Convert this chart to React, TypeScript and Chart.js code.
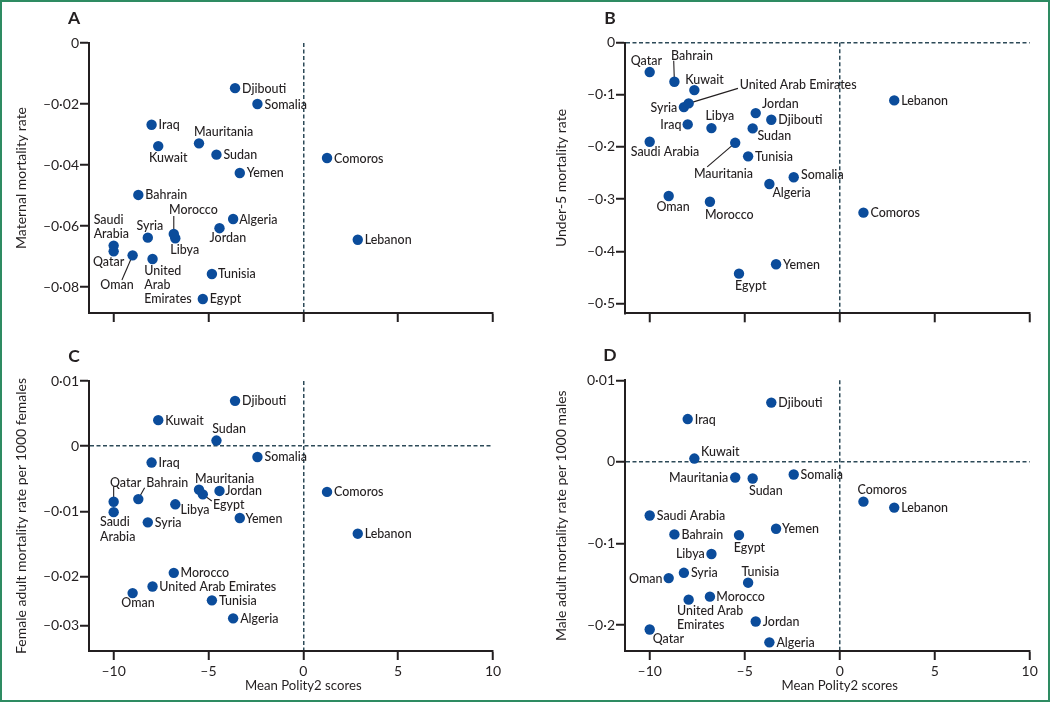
import React, { useEffect, useRef } from 'react';
import { Chart, registerables, LinearScale } from 'chart.js';

Chart.register(...registerables);

// ---------------- data ----------------
const countries = [
  'Algeria', 'Bahrain', 'Comoros', 'Djibouti', 'Egypt', 'Iraq', 'Jordan', 'Kuwait',
  'Lebanon', 'Libya', 'Mauritania', 'Morocco', 'Oman', 'Qatar', 'Saudi Arabia',
  'Somalia', 'Sudan', 'Syria', 'Tunisia', 'United Arab Emirates', 'Yemen',
];
const polity2 = [
  -3.7, -8.7, 1.25, -3.6, -5.3, -8.0, -4.42, -7.65,
  2.87, -6.75, -5.5, -6.83, -9.0, -10, -10,
  -2.42, -4.58, -8.2, -4.82, -7.95, -3.35,
];
const maternalMortality = [
  -0.0577, -0.0498, -0.0377, -0.0148, -0.0839, -0.0268, -0.0607, -0.0338,
  -0.0645, -0.064, -0.0329, -0.0626, -0.0696, -0.0683, -0.0664,
  -0.02, -0.0366, -0.0638, -0.0757, -0.0708, -0.0426,
];
const under5Mortality = [
  -0.271, -0.0749, -0.326, -0.1478, -0.443, -0.1567, -0.135, -0.0909,
  -0.1107, -0.1638, -0.192, -0.305, -0.294, -0.0563, -0.19,
  -0.258, -0.1644, -0.1235, -0.218, -0.1164, -0.425,
];
const femaleAdultMortality = [
  -0.02856, -0.0081, -0.007, 0.00696, -0.00737, -0.0025, -0.00685, 0.004,
  -0.0134, -0.0089, -0.00665, -0.0194, -0.02336, -0.0085, -0.0101,
  -0.00164, 0.00087, -0.01166, -0.02486, -0.022, -0.011,
];
const maleAdultMortality = [
  -0.2211, -0.0888, -0.0487, 0.00727, -0.0897, 0.00525, -0.1955, 0.00041,
  -0.056, -0.1128, -0.0191, -0.1651, -0.1424, -0.2053, -0.0657,
  -0.0154, -0.0203, -0.1359, -0.148, -0.1688, -0.0819,
];

const polityTicks = [-10, -5, 0, 5, 10];
const polityTickLabels = ['–10', '–5', '0', '5', '10'];
const maternalTicks = [0, -0.02, -0.04, -0.06, -0.08];
const maternalTickLabels = ['0', '–0·02', '–0·04', '–0·06', '–0·08'];
const under5Ticks = [0, -0.1, -0.2, -0.3, -0.4, -0.5];
const under5TickLabels = ['0', '–0·1', '–0·2', '–0·3', '–0·4', '–0·5'];
const femaleTicks = [0.01, 0, -0.01, -0.02, -0.03];
const femaleTickLabels = ['0·01', '0', '–0·01', '–0·02', '–0·03'];
const maleTicks = [0.01, 0, -0.1, -0.2];
const maleTickLabels = ['0·01', '0', '–0·1', '–0·2'];

// ---------------- styles ----------------
const INK = '#231f20';
const DOT = '#0b4c9b';
const DASH = '#2d4a58';
const FAMILY = "Lato, 'Noto Sans', sans-serif";
const FONT_SIZE = 14;
const LABEL_SQUEEZE = 0.89; // reference type is a condensed humanist sans
const TITLE_SQUEEZE = 0.94;
const LINE_H = 14.3;

// piecewise axes (the reference's y axes are not evenly spaced in C and D)
function makeWarp(breaks: [number, number][]) {
  return (v: number) => {
    const n = breaks.length;
    let i = 0;
    if (v >= breaks[n - 1][0]) i = n - 2;
    else if (v > breaks[0][0]) {
      while (i < n - 2 && v > breaks[i + 1][0]) i++;
    }
    const [d0, s0] = breaks[i];
    const [d1, s1] = breaks[i + 1];
    return s0 + ((v - d0) * (s1 - s0)) / (d1 - d0);
  };
}
function registerWarpScale(id: string, breaks: [number, number][]) {
  const warp = makeWarp(breaks);
  class WarpScale extends LinearScale {
    getPixelForValue(value: number) {
      return super.getPixelForValue(warp(value));
    }
  }
  (WarpScale as any).id = id;
  Chart.register(WarpScale as any);
}
registerWarpScale('femaleWarp', [[-0.03, -0.02745], [-0.02, -0.02], [0.01, 0.01]]);
registerWarpScale('maleWarp', [[-0.2, -0.2], [0, 0], [0.01, 0.1]]);

type Place = { dx?: number; dy?: number; a?: CanvasTextAlign; lines?: string[]; lead?: [number, number] };

interface PanelSpec {
  letter: string;
  left: number;
  top: number;
  values: number[];
  yType: string;
  yMin: number;
  yMax: number;
  yTicks: number[];
  yTickLabels: string[];
  yTitle: string;
  yZeroLine: boolean;
  showX: boolean;
  padTop: number;
  padRight: number;
  yWidth: number;
  xHeight: number;
  yTitlePad: number;
  places: Record<string, Place>;
}

const placesA: Record<string, Place> = {
  Mauritania: { dx: -5, dy: -12.3 },
  Kuwait: { dx: -9.3, dy: 11 },
  Jordan: { dx: -10, dy: 9.3 },
  Morocco: { dx: -4.7, dy: -24.7, lead: [0, -18] },
  Libya: { dx: -5, dy: 11.7 },
  Syria: { dx: -11.3, dy: -12.3 },
  'Saudi Arabia': { dx: -20, dy: -26, lines: ['Saudi', 'Arabia'] },
  Qatar: { dx: -20.7, dy: 9.7 },
  Oman: { dx: -32.3, dy: 29, lead: [-10.7, 24.7] },
  'United Arab Emirates': { dx: -8.3, dy: 11.3, lines: ['United', 'Arab', 'Emirates'] },
  Tunisia: { dx: 6 },
  Algeria: { dx: 6 },
};
const placesB: Record<string, Place> = {
  Qatar: { dx: -19, dy: -12 },
  Bahrain: { dx: -3.3, dy: -26.7, lead: [-0.7, -21] },
  Kuwait: { dx: -9, dy: -10.7 },
  'United Arab Emirates': { dx: 51, dy: -19, lead: [49.3, -15] },
  Syria: { dx: -6.7, a: 'right' },
  Jordan: { dx: 6.3, dy: -9.7 },
  Iraq: { dx: -6.3, a: 'right' },
  Libya: { dx: -6, dy: -12.3 },
  Sudan: { dx: 4.7, dy: 7 },
  'Saudi Arabia': { dx: -19, dy: 10 },
  Mauritania: { dx: -41.3, dy: 30.3, lead: [-28, 24] },
  Somalia: { dx: 7.3, dy: -2.3 },
  Algeria: { dx: 3, dy: 8 },
  Oman: { dx: -12.3, dy: 10 },
  Morocco: { dx: -5, dy: 12.3 },
  Egypt: { dx: -4, dy: 12.3 },
};
const placesC: Record<string, Place> = {
  Sudan: { dx: -4.3, dy: -12 },
  Mauritania: { dx: -4, dy: -11 },
  Egypt: { dx: 10.3, dy: 9.7, lead: [9, 6.7] },
  Jordan: { dx: 5.7 },
  Qatar: { dx: -3.7, dy: -19.7, lead: [0, -15] },
  Bahrain: { dx: 8, dy: -17, lead: [6.3, -11.3] },
  Libya: { dx: 5.3, dy: 5.3 },
  'Saudi Arabia': { dx: -13.7, dy: 9.7, lines: ['Saudi', 'Arabia'] },
  Yemen: { dx: 5.7 },
  Oman: { dx: -11.3, dy: 9.7 },
  Morocco: { dx: 6.7 },
  'United Arab Emirates': { dx: 6.7 },
};
const placesD: Record<string, Place> = {
  Kuwait: { dx: 6.7, dy: -7.3 },
  Mauritania: { dx: -7, a: 'right' },
  Sudan: { dx: -3.7, dy: 11.7 },
  Comoros: { dx: -6, dy: -11.7 },
  Egypt: { dx: -5.3, dy: 12 },
  Libya: { dx: -6.7, a: 'right' },
  Oman: { dx: -6.3, a: 'right' },
  Tunisia: { dx: -6.7, dy: -11 },
  'United Arab Emirates': { dx: -11.7, dy: 10.7, lines: ['United Arab', 'Emirates'] },
  Qatar: { dx: 3, dy: 8.7 },
  Yemen: { dx: 6 },
  Somalia: { dx: 6.7 },
  Morocco: { dx: 6.3 },
};

// canvases for C and D start 10px higher so the panel letter is not clipped
const panels: PanelSpec[] = [
  {
    letter: 'A', left: 0, top: 0, values: maternalMortality, yType: 'linear',
    yMin: -0.0885, yMax: 0, yTicks: maternalTicks, yTickLabels: maternalTickLabels,
    yTitle: 'Maternal mortality rate', yZeroLine: false, showX: false,
    padTop: 43, padRight: 32, yWidth: 89, xHeight: 38, yTitlePad: 13.3, places: placesA,
  },
  {
    letter: 'B', left: 525, top: 0, values: under5Mortality, yType: 'linear',
    yMin: -0.519, yMax: 0, yTicks: under5Ticks, yTickLabels: under5TickLabels,
    yTitle: 'Under-5 mortality rate', yZeroLine: true, showX: false,
    padTop: 42.7, padRight: 20.3, yWidth: 100, xHeight: 37.7, yTitlePad: 28.3, places: placesB,
  },
  {
    letter: 'C', left: 0, top: 341, values: femaleAdultMortality, yType: 'femaleWarp',
    yMin: -0.03138, yMax: 0.01, yTicks: femaleTicks, yTickLabels: femaleTickLabels,
    yTitle: 'Female adult mortality rate per 1000 females', yZeroLine: true, showX: true,
    padTop: 40, padRight: 32, yWidth: 89, xHeight: 51, yTitlePad: 13.3, places: placesC,
  },
  {
    letter: 'D', left: 525, top: 341, values: maleAdultMortality, yType: 'maleWarp',
    yMin: -0.2317, yMax: 0.1, yTicks: maleTicks, yTickLabels: maleTickLabels,
    yTitle: 'Male adult mortality rate per 1000 males', yZeroLine: true, showX: true,
    padTop: 39.3, padRight: 20.3, yWidth: 100, xHeight: 51, yTitlePad: 28.3, places: placesD,
  },
];

function drawSqueezed(ctx: CanvasRenderingContext2D, t: string, x: number, y: number, sx: number) {
  ctx.save();
  ctx.translate(x, y);
  ctx.scale(sx, 1);
  ctx.fillText(t, 0, 0);
  ctx.restore();
}

function makeLabelPlugin(spec: PanelSpec) {
  return {
    id: 'countryLabels' + spec.letter,
    beforeDatasetsDraw(chart: any) {
      const ctx = chart.ctx;
      const meta = chart.getDatasetMeta(0);
      ctx.save();
      ctx.strokeStyle = INK;
      ctx.lineWidth = 1.1;
      meta.data.forEach((el: any, i: number) => {
        const p = spec.places[countries[i]];
        if (p && p.lead) {
          ctx.beginPath();
          ctx.moveTo(el.x, el.y);
          ctx.lineTo(el.x + p.lead[0], el.y + p.lead[1]);
          ctx.stroke();
        }
      });
      ctx.restore();
    },
    afterDatasetsDraw(chart: any) {
      const ctx = chart.ctx;
      const meta = chart.getDatasetMeta(0);
      ctx.save();
      ctx.fillStyle = INK;
      ctx.textBaseline = 'middle';
      ctx.font = `500 ${FONT_SIZE}px ${FAMILY}`;
      meta.data.forEach((el: any, i: number) => {
        const p = spec.places[countries[i]] || {};
        const lines = p.lines || [countries[i]];
        ctx.textAlign = p.a || 'left';
        lines.forEach((t, k) => {
          drawSqueezed(ctx, t, el.x + (p.dx ?? 7), el.y + (p.dy ?? 0) + k * LINE_H, LABEL_SQUEEZE);
        });
      });
      const ca = chart.chartArea;
      ctx.textAlign = 'center';
      ctx.font = `bold 17.5px ${FAMILY}`;
      ctx.fillText(spec.letter, ca.left - 15, ca.top - 24.5);
      if (spec.showX) {
        ctx.font = `${FONT_SIZE}px ${FAMILY}`;
        drawSqueezed(ctx, 'Mean Polity2 scores', chart.scales.x.getPixelForValue(0), ca.bottom + 34.3, TITLE_SQUEEZE);
      }
      ctx.restore();
    },
  };
}

function Panel({ spec }: { spec: PanelSpec }) {
  const ref = useRef<HTMLCanvasElement | null>(null);
  const height = spec.top === 0 ? 351 : 361;
  useEffect(() => {
    if (!ref.current) return;
    const font = { family: FAMILY, size: FONT_SIZE };
    const chart = new Chart(ref.current, {
      type: 'scatter',
      data: {
        datasets: [
          {
            data: countries.map((c, i) => ({ x: polity2[i], y: spec.values[i] })),
            pointRadius: 5.2,
            pointHoverRadius: 5.2,
            pointBackgroundColor: DOT,
            pointBorderWidth: 0,
          },
        ],
      },
      options: {
        responsive: false,
        animation: false,
        events: [],
        layout: { padding: { left: 0, top: spec.padTop, right: spec.padRight, bottom: 0 } },
        plugins: { legend: { display: false }, tooltip: { enabled: false } },
        scales: {
          x: {
            type: 'linear',
            position: 'bottom',
            min: -11.3,
            max: 10,
            bounds: 'data',
            afterBuildTicks: (s: any) => {
              s.ticks = polityTicks.map((v) => ({ value: v }));
            },
            afterFit: (s: any) => {
              s.height = spec.xHeight;
            },
            ticks: {
              display: spec.showX,
              autoSkip: false,
              maxRotation: 0,
              padding: 3,
              color: INK,
              font,
              callback: (_v: any, i: number) => polityTickLabels[i] ?? '',
            },
            grid: {
              color: (c: any) => (c.tick && c.tick.value === 0 ? DASH : 'rgba(0,0,0,0)'),
              lineWidth: 1.5,
              tickColor: INK,
              tickLength: 9,
              tickWidth: 2,
            },
            border: { display: true, color: INK, width: 2, dash: [4, 2.5] },
            title: { display: false },
          },
          y: {
            type: spec.yType as any,
            position: 'left',
            min: spec.yMin,
            max: spec.yMax,
            bounds: 'data',
            afterBuildTicks: (s: any) => {
              s.ticks = spec.yTicks.map((v) => ({ value: v }));
            },
            afterFit: (s: any) => {
              s.width = spec.yWidth;
            },
            ticks: {
              autoSkip: false,
              padding: 1,
              color: INK,
              font,
              callback: (_v: any, i: number) => spec.yTickLabels[i] ?? '',
            },
            grid: {
              color: (c: any) =>
                spec.yZeroLine && c.tick && c.tick.value === 0 ? DASH : 'rgba(0,0,0,0)',
              lineWidth: 1.5,
              tickColor: INK,
              tickLength: 9,
              tickWidth: 2,
            },
            border: { display: true, color: INK, width: 2, dash: [4, 2.5] },
            title: {
              display: true,
              text: spec.yTitle,
              color: INK,
              font: { family: FAMILY, size: FONT_SIZE },
              padding: { top: spec.yTitlePad, bottom: 0 },
            },
          },
        },
      } as any,
      plugins: [makeLabelPlugin(spec)],
    });
    return () => chart.destroy();
  }, [spec]);
  return (
    <canvas
      ref={ref}
      width={525}
      height={height}
      style={{ position: 'absolute', left: spec.left, top: spec.top, width: 525, height, display: 'block' }}
    />
  );
}

export default function App() {
  useEffect(() => {
    document.body.style.margin = '0';
  }, []);
  return (
    <div
      style={{
        position: 'fixed',
        left: 0,
        top: 0,
        width: 1050,
        height: 702,
        background: '#ffffff',
        overflow: 'hidden',
      }}
    >
      {panels.map((p) => (
        <Panel key={p.letter} spec={p} />
      ))}
      <div
        style={{
          position: 'absolute',
          inset: 0,
          border: '2px solid #2e8b62',
          boxSizing: 'border-box',
          pointerEvents: 'none',
        }}
      />
    </div>
  );
}
